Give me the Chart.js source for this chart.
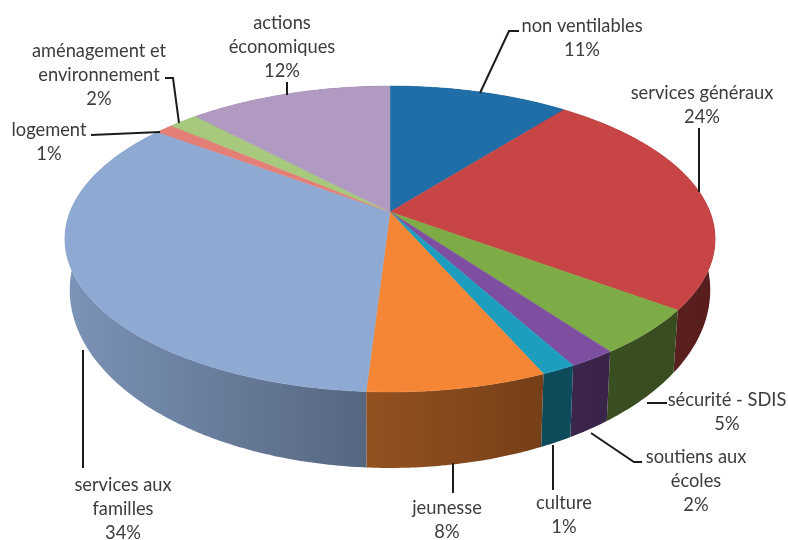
<!DOCTYPE html>
<html lang="fr">
<head>
    <meta charset="UTF-8">
    <title>Répartition des dépenses</title>
    <script src="https://cdn.jsdelivr.net/npm/chart.js"></script>
    <style>
        html, body { margin: 0; padding: 0; background: #fff; }
        canvas { display: block; filter: blur(0.5px); }
    </style>
</head>
<body>
    <canvas id="pie" width="788" height="540"></canvas>
    <script>
        const categories = ['non ventilables', 'services généraux', 'sécurité - SDIS', 'soutiens aux écoles', 'culture', 'jeunesse', 'services aux familles', 'logement', 'aménagement et environnement', 'actions économiques'];
        // the printed labels are these values rounded
        const shares = [10.6, 24.45, 4.85, 2, 1.45, 7.55, 34.15, 1.05, 1.75, 12];
        const sliceColors = ['#1f6ea8', '#c84545', '#7dab46', '#7e4fa0', '#1d9ebf', '#f58635', '#8eaad3', '#e47f78', '#a6c97d', '#b09ac2'];

        // label text lines and centre of each label, in the same order as categories
        const labelLayout = [
            { lines: ['non ventilables'], x: 582, y: 26 },
            { lines: ['services généraux'], x: 702, y: 93 },
            { lines: ['sécurité - SDIS'], x: 727, y: 400 },
            { lines: ['soutiens aux', 'écoles'], x: 696, y: 457 },
            { lines: ['culture'], x: 564, y: 503 },
            { lines: ['jeunesse'], x: 447, y: 508 },
            { lines: ['services aux', 'familles'], x: 123, y: 485 },
            { lines: ['logement'], x: 49, y: 130 },
            { lines: ['aménagement et', 'environnement'], x: 99, y: 51 },
            { lines: ['actions', 'économiques'], x: 282, y: 23 }
        ];
        const leaderLines = [
            [[519, 31], [509, 31], [480, 93]],
            [[699, 128], [699, 192]],
            [[667, 403], [647, 403]],
            [[642, 462], [634, 462], [591, 433]],
            [[553, 445], [553, 490]],
            [[453, 463], [453, 493]],
            [[83, 350], [83, 468]],
            [[91, 135], [160, 132]],
            [[165, 78], [173, 78], [179, 123]],
            [[287, 82], [287, 95]]
        ];
        // how dark the side wall gets from left to right
        const wallShade = [[0.08, 0.87], [0.44, 0.62], [0.68, 0.48], [0.9, 0.44]];

        const apexX = 390, apexY = 212;

        // perspective projection of the disc, the apex is not the middle of the ellipse
        function topRim(a) {
            const d = 1 - 0.1765 * Math.sin(a);
            return [apexX + 320 * Math.cos(a) / d, apexY + 148.2 * Math.sin(a) / d];
        }
        function bottomRim(a) {
            const p = topRim(a);
            return [apexX + (p[0] - apexX) * 0.985, p[1] + 63 + (p[1] - 312) * 0.1625];
        }
        function traceArc(ctx, rim, from, to) {
            const steps = Math.max(2, Math.ceil(Math.abs(to - from) / 0.01));
            for (let i = 0; i <= steps; i++) {
                const p = rim(from + (to - from) * i / steps);
                ctx.lineTo(p[0], p[1]);
            }
        }
        function shaded(hex, f) {
            const n = parseInt(hex.slice(1), 16);
            return `rgb(${Math.round((n >> 16) * f)}, ${Math.round(((n >> 8) & 255) * f)}, ${Math.round((n & 255) * f)})`;
        }

        const pie3d = {
            id: 'pie3d',
            beforeDatasetsDraw(chart) {
                const ctx = chart.ctx;
                const arcs = chart.getDatasetMeta(0).data;
                const colors = chart.data.datasets[0].backgroundColor;
                const width = chart.width;

                ctx.save();
                arcs.forEach((arc, i) => {
                    const grad = ctx.createLinearGradient(0, 0, width, 0);
                    wallShade.forEach(s => grad.addColorStop(s[0], shaded(colors[i], s[1])));
                    ctx.beginPath();
                    traceArc(ctx, topRim, arc.startAngle, arc.endAngle);
                    traceArc(ctx, bottomRim, arc.endAngle, arc.startAngle);
                    ctx.closePath();
                    ctx.fillStyle = grad;
                    ctx.fill();
                });
                arcs.forEach((arc, i) => {
                    ctx.beginPath();
                    ctx.moveTo(apexX, apexY);
                    traceArc(ctx, topRim, arc.startAngle, arc.endAngle);
                    ctx.closePath();
                    ctx.fillStyle = colors[i];
                    ctx.strokeStyle = colors[i];
                    ctx.lineWidth = 0.5;
                    ctx.fill();
                    ctx.stroke();
                });

                ctx.strokeStyle = '#1c1c1c';
                ctx.lineWidth = 2;
                leaderLines.forEach(line => {
                    ctx.beginPath();
                    line.forEach(p => ctx.lineTo(p[0], p[1]));
                    ctx.stroke();
                });

                ctx.fillStyle = '#3c3c3c';
                ctx.font = '18.3px Lato';
                ctx.textAlign = 'center';
                ctx.textBaseline = 'middle';
                labelLayout.forEach((label, i) => {
                    const rows = label.lines.concat(Math.round(shares[i]) + '%');
                    rows.forEach((row, r) => ctx.fillText(row, label.x, label.y + r * 24));
                });
                ctx.restore();
                return false;
            }
        };

        new Chart(document.getElementById('pie'), {
            type: 'pie',
            data: {
                labels: categories,
                datasets: [{ data: shares, backgroundColor: sliceColors }]
            },
            options: {
                responsive: false,
                animation: false,
                plugins: { legend: { display: false }, tooltip: { enabled: false } }
            },
            plugins: [pie3d]
        });
    </script>
</body>
</html>
